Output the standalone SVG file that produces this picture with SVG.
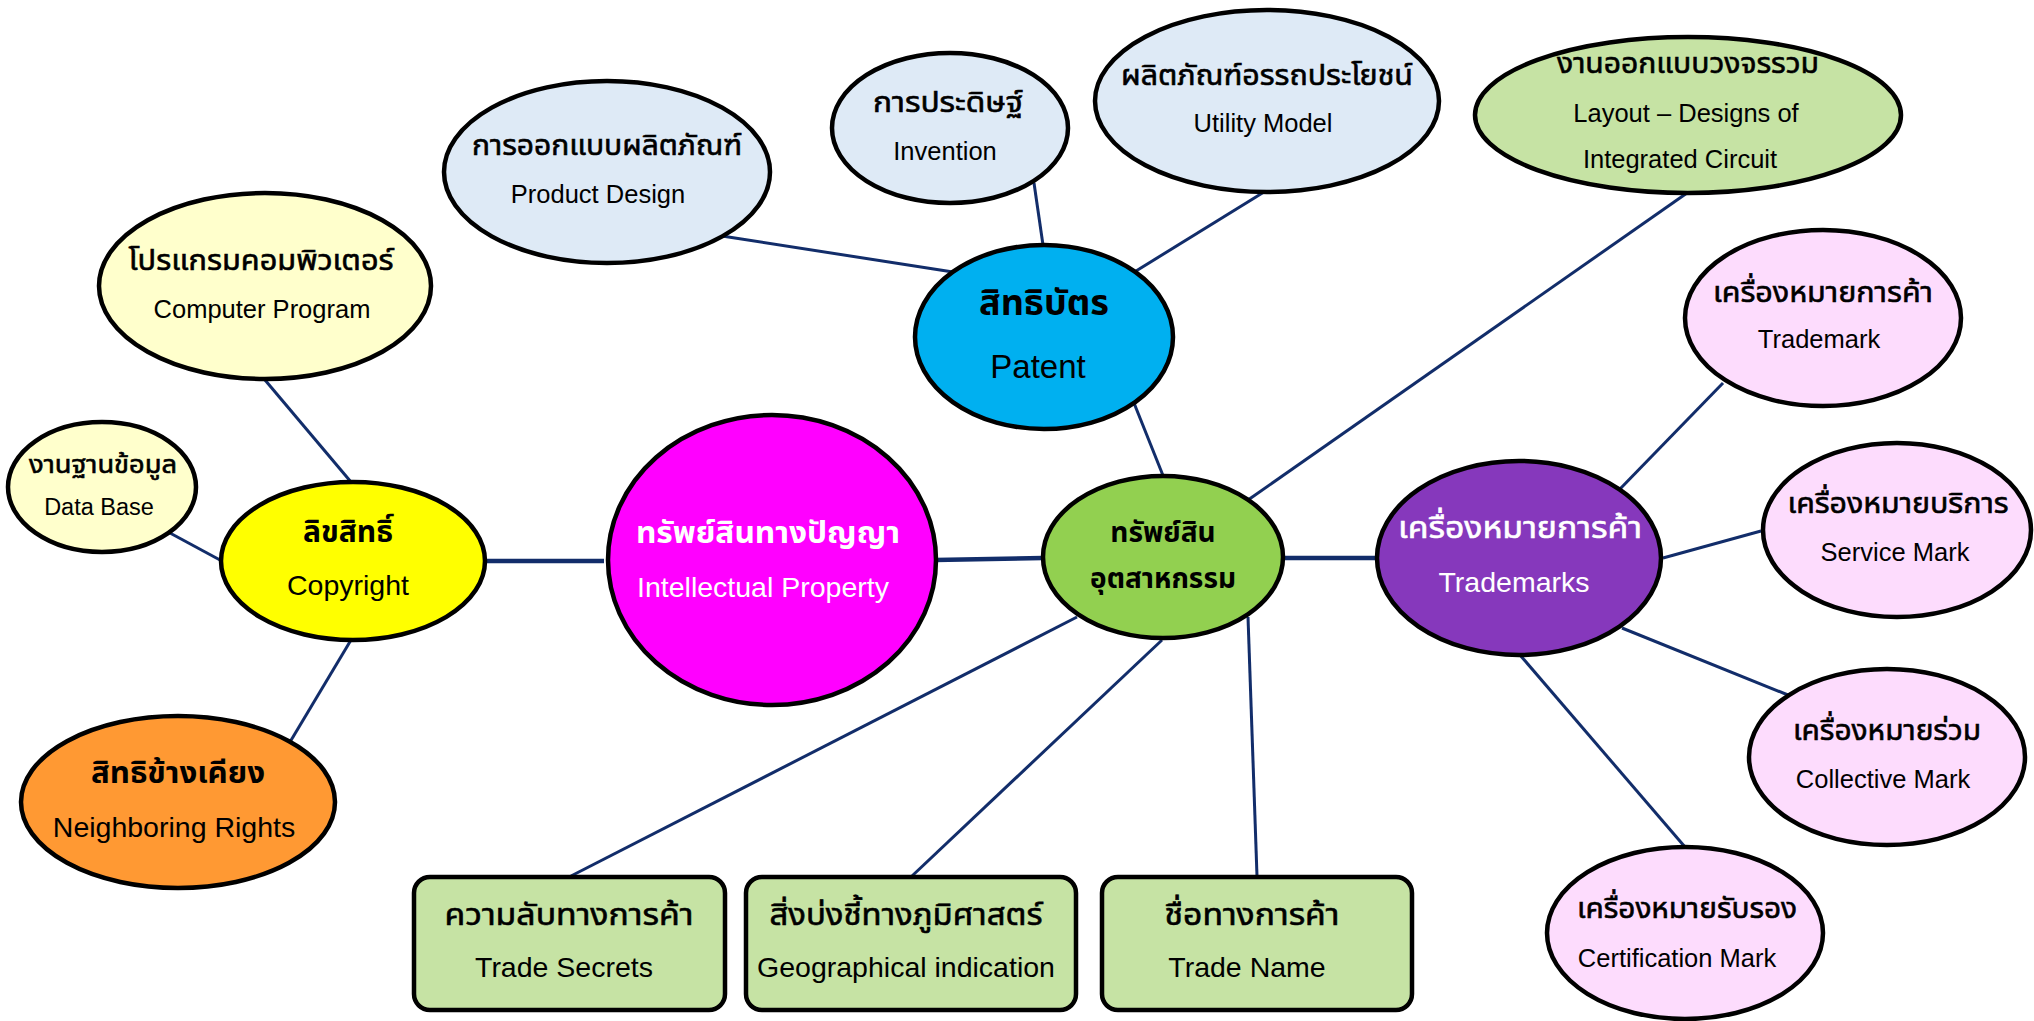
<svg xmlns="http://www.w3.org/2000/svg" width="2034" height="1021" viewBox="0 0 2034 1021">
<style>
.n{stroke:#000;stroke-width:4.5}
.c line{stroke:#122d6a;stroke-width:3}
.c .t{stroke-width:4.5}
text{font-family:"Liberation Sans","Noto Sans","Noto Sans Thai",Tahoma,sans-serif;text-anchor:middle;fill:#000}
.th{font-size:28.5px;stroke:#000;stroke-width:0.6px}
.en{font-size:25.5px}
.b{font-weight:bold}
.w{fill:#fff}
.lb{fill:#deeaf6}.ly{fill:#ffffcc}.y{fill:#ffff00}.o{fill:#ff9933}.m{fill:#ff00ff}.p{fill:#00b0f0}.g{fill:#92d050}.lg{fill:#c6e3a4}.pu{fill:#8638bc}.pk{fill:#fddcfd}
</style>
<rect width="2034" height="1021" fill="#fff"/>
<g class="c" id="connectors">
<line x1="722" y1="236" x2="953" y2="272"/>
<line x1="1034" y1="183" x2="1043" y2="245"/>
<line x1="1264" y1="192" x2="1136" y2="271"/>
<line x1="1134" y1="403" x2="1164" y2="478"/>
<line x1="1687" y1="193" x2="1248" y2="500"/>
<line x1="1723" y1="383" x2="1619" y2="490"/>
<line x1="265" y1="380" x2="351" y2="482"/>
<line x1="170" y1="533" x2="220" y2="560"/>
<line class="t" x1="485" y1="561" x2="604" y2="561"/>
<line class="t" x1="935" y1="560" x2="1043" y2="558"/>
<line class="t" x1="1283" y1="558" x2="1377" y2="558"/>
<line x1="290" y1="742" x2="351" y2="640"/>
<line x1="1077" y1="617" x2="571" y2="876"/>
<line x1="1162" y1="640" x2="912" y2="876"/>
<line x1="1248" y1="617" x2="1257" y2="876"/>
<line x1="1663" y1="558" x2="1761" y2="531"/>
<line x1="1622" y1="628" x2="1788" y2="695"/>
<line x1="1520" y1="655" x2="1685" y2="847"/>
</g>
<g id="product-design"><ellipse class="n lb" cx="607" cy="172" rx="163" ry="91"/><text class="th" x="607" y="155" textLength="270" lengthAdjust="spacingAndGlyphs">การออกแบบผลิตภัณฑ์</text><text class="en" x="598" y="203">Product Design</text></g>
<g id="invention"><ellipse class="n lb" cx="950" cy="128" rx="118" ry="75"/><text class="th" x="948" y="112" textLength="150" lengthAdjust="spacingAndGlyphs">การประดิษฐ์</text><text class="en" x="945" y="160">Invention</text></g>
<g id="utility-model"><ellipse class="n lb" cx="1267" cy="101" rx="172" ry="91"/><text class="th" x="1267" y="85" textLength="292" lengthAdjust="spacingAndGlyphs">ผลิตภัณฑ์อรรถประโยชน์</text><text class="en" x="1263" y="132">Utility Model</text></g>
<g id="layout"><ellipse class="n lg" cx="1688" cy="115" rx="213" ry="78"/><text class="th" x="1688" y="73" textLength="262" lengthAdjust="spacingAndGlyphs">งานออกแบบวงจรรวม</text><text class="en" x="1686" y="122">Layout – Designs of</text><text class="en" x="1680" y="168">Integrated Circuit</text></g>
<g id="computer-program"><ellipse class="n ly" cx="265" cy="286" rx="166" ry="93"/><text class="th" x="261" y="270" textLength="265" lengthAdjust="spacingAndGlyphs">โปรแกรมคอมพิวเตอร์</text><text class="en" x="262" y="318">Computer Program</text></g>
<g id="data-base"><ellipse class="n ly" cx="102" cy="487" rx="94" ry="65"/><text class="th" x="103" y="473" style="font-size:25px" textLength="148" lengthAdjust="spacingAndGlyphs">งานฐานข้อมูล</text><text class="en" x="99" y="515" style="font-size:23.5px">Data Base</text></g>
<g id="patent"><ellipse class="n p" cx="1044" cy="337" rx="129" ry="92"/><text class="b" x="1044" y="315" style="font-size:36px">สิทธิบัตร</text><text x="1038" y="378" style="font-size:33px">Patent</text></g>
<g id="copyright"><ellipse class="n y" cx="353" cy="561" rx="132" ry="79"/><text class="b" x="348" y="542" style="font-size:30px">ลิขสิทธิ์</text><text x="348" y="595" style="font-size:28.5px">Copyright</text></g>
<g id="intellectual-property"><ellipse class="n m" cx="772" cy="560" rx="164" ry="145"/><text class="b w" x="768" y="543" style="font-size:30px" textLength="264" lengthAdjust="spacingAndGlyphs">ทรัพย์สินทางปัญญา</text><text class="w" x="763" y="597" style="font-size:28.5px">Intellectual Property</text></g>
<g id="neighboring-rights"><ellipse class="n o" cx="178" cy="802" rx="157" ry="86"/><text class="b" x="178" y="783" style="font-size:30px" textLength="174" lengthAdjust="spacingAndGlyphs">สิทธิข้างเคียง</text><text x="174" y="837" style="font-size:28.5px">Neighboring Rights</text></g>
<g id="industrial-property"><ellipse class="n g" cx="1163" cy="557" rx="120" ry="81"/><text class="b" x="1163" y="542" style="font-size:28px">ทรัพย์สิน</text><text class="b" x="1163" y="588" style="font-size:28px">อุตสาหกรรม</text></g>
<g id="trademarks"><ellipse class="n pu" cx="1519" cy="558" rx="142" ry="97"/><text class="w" x="1520" y="538" style="font-size:30px;stroke:#fff;stroke-width:0.6px" textLength="244" lengthAdjust="spacingAndGlyphs">เครื่องหมายการค้า</text><text class="w" x="1514" y="592" style="font-size:28.5px">Trademarks</text></g>
<g id="trademark"><ellipse class="n pk" cx="1823" cy="318" rx="138" ry="88"/><text class="th" x="1823" y="302" textLength="220" lengthAdjust="spacingAndGlyphs">เครื่องหมายการค้า</text><text class="en" x="1819" y="348">Trademark</text></g>
<g id="service-mark"><ellipse class="n pk" cx="1897" cy="530" rx="134" ry="87"/><text class="th" x="1898" y="513" textLength="221" lengthAdjust="spacingAndGlyphs">เครื่องหมายบริการ</text><text class="en" x="1895" y="561">Service Mark</text></g>
<g id="collective-mark"><ellipse class="n pk" cx="1887" cy="757" rx="138" ry="88"/><text class="th" x="1887" y="740" textLength="188" lengthAdjust="spacingAndGlyphs">เครื่องหมายร่วม</text><text class="en" x="1883" y="788">Collective Mark</text></g>
<g id="certification-mark"><ellipse class="n pk" cx="1685" cy="933" rx="138" ry="86"/><text class="th" x="1687" y="918" textLength="220" lengthAdjust="spacingAndGlyphs">เครื่องหมายรับรอง</text><text class="en" x="1677" y="967">Certification Mark</text></g>
<g id="trade-secrets"><rect class="n lg" x="414" y="877" width="311" height="133" rx="16"/><text class="th" x="569" y="925" style="font-size:30px" textLength="249" lengthAdjust="spacingAndGlyphs">ความลับทางการค้า</text><text x="564" y="977" style="font-size:28.5px">Trade Secrets</text></g>
<g id="geographical-indication"><rect class="n lg" x="746" y="877" width="330" height="133" rx="16"/><text class="th" x="906" y="925" style="font-size:30px" textLength="273" lengthAdjust="spacingAndGlyphs">สิ่งบ่งชี้ทางภูมิศาสตร์</text><text x="906" y="977" style="font-size:28.5px">Geographical indication</text></g>
<g id="trade-name"><rect class="n lg" x="1102" y="877" width="310" height="133" rx="16"/><text class="th" x="1252" y="925" style="font-size:30px" textLength="175" lengthAdjust="spacingAndGlyphs">ชื่อทางการค้า</text><text x="1247" y="977" style="font-size:28.5px">Trade Name</text></g>
</svg>
